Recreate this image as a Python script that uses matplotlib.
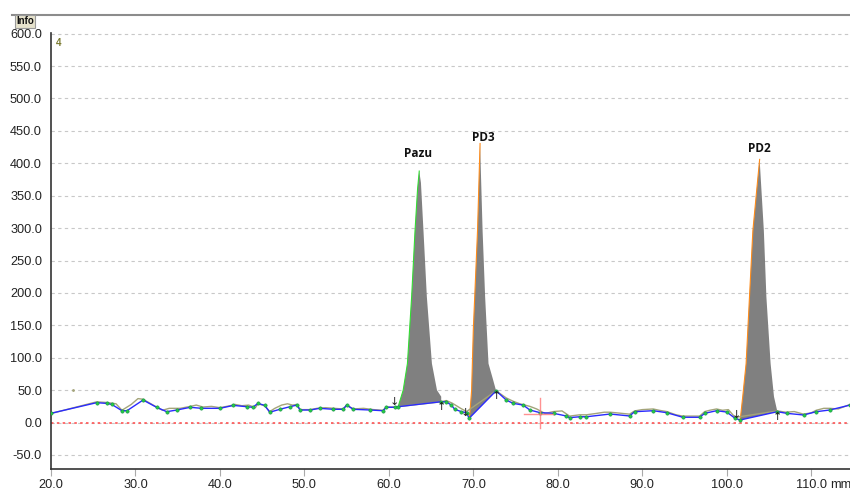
import matplotlib
matplotlib.use("Agg")
import matplotlib.pyplot as plt
from matplotlib.lines import Line2D
import numpy as np

plt.rcParams['font.family'] = ['Liberation Sans', 'DejaVu Sans']

# Baseline trace (blue) in mm / signal units; peak start/end points included
base_x = [20.0, 25.4, 26.6, 27.2, 28.4, 29.0, 30.9, 32.5, 33.7, 34.9, 36.5, 37.8,
          40.0, 41.6, 43.2, 43.9, 44.5, 45.3, 45.9, 47.1, 48.3, 49.1, 49.5, 50.7,
          51.8, 53.4, 54.6, 55.0, 55.8, 57.8, 59.3, 59.7, 60.7, 61.1,
          66.2, 66.8, 67.4, 67.8, 68.6, 69.2, 69.5,
          72.7, 73.9, 74.7, 75.9, 76.7, 77.9, 79.5, 81.0, 81.4, 82.6, 83.4, 86.2,
          88.5, 89.1, 91.3, 92.9, 94.8, 96.8, 97.4, 98.8, 100.0, 101.0, 101.6,
          106.0, 107.1, 109.1, 110.6, 112.2, 114.6]
base_y = [14.3, 30.7, 29.6, 28.0, 18.3, 18.3, 34.8, 23.6, 16.8, 19.4, 23.6, 22.0,
          22.0, 26.5, 24.5, 23.6, 29.7, 26.5, 16.0, 20.5, 24.5, 27.0, 19.4, 19.4,
          22.0, 20.5, 20.5, 27.0, 20.5, 19.4, 18.3, 23.6, 23.6, 24.5,
          32.2, 32.0, 27.0, 20.5, 16.8, 15.3, 6.6,
          49.0, 34.8, 29.7, 27.0, 19.4, 15.3, 14.3, 10.2, 7.6, 9.0, 9.0, 13.2,
          10.2, 16.8, 18.3, 15.3, 8.2, 8.2, 14.3, 18.3, 16.3, 6.6, 4.0,
          16.8, 14.3, 11.7, 16.8, 19.4, 27.0]

# Raw trace (olive)
raw_x = [20.0, 25.4, 26.6, 27.7, 28.4, 29.5, 30.3, 30.9, 31.7, 32.5, 33.2, 34.0,
         35.3, 36.5, 37.2, 38.0, 39.0, 40.0, 41.2, 41.8, 42.6, 43.4, 44.2, 44.5,
         45.3, 45.9, 46.5, 47.3, 48.0, 48.6, 49.1, 49.5, 50.7, 51.5, 52.5, 53.5,
         54.6, 55.0, 55.8, 57.0, 58.2, 59.3, 59.7, 60.7,
         66.2, 66.8, 67.5, 68.5, 69.2,
         72.7, 73.9, 74.7, 75.5, 76.7, 77.5, 78.5, 79.5, 80.5, 81.4, 82.6, 83.4,
         84.5, 85.5, 86.2, 87.0, 88.5, 89.1, 90.0, 91.3, 92.0, 92.9, 94.0, 94.8,
         96.8, 97.4, 98.0, 98.8, 99.5, 100.2, 101.0,
         106.0, 107.0, 108.0, 109.1, 110.0, 110.6, 111.5, 112.2, 113.2, 114.6]
raw_y = [14.0, 32.0, 31.0, 29.0, 19.0, 28.0, 37.0, 36.0, 30.0, 24.0, 19.0, 22.0,
         22.0, 25.0, 27.0, 24.0, 25.0, 23.0, 26.0, 28.0, 26.0, 27.0, 23.0, 29.0,
         26.0, 17.0, 22.0, 27.0, 29.0, 27.0, 28.0, 20.0, 20.0, 22.0, 23.0, 22.0,
         21.0, 27.0, 21.0, 22.0, 20.0, 19.0, 24.0, 24.0,
         32.0, 34.0, 30.0, 22.0, 17.0,
         49.0, 38.0, 33.0, 29.0, 25.0, 21.0, 14.0, 17.0, 18.0, 10.0, 12.0, 12.0,
         14.0, 16.0, 16.0, 15.0, 13.0, 18.0, 20.0, 21.0, 19.0, 17.0, 12.0, 10.0,
         10.0, 17.0, 19.0, 21.0, 19.0, 20.0, 8.0,
         18.0, 16.0, 17.0, 13.0, 15.0, 19.0, 22.0, 22.0, 21.0, 28.0]

# Peaks: outline from start to end along the detector signal
peak_names = ["Pazu", "PD3", "PD2"]
pazu_x = [61.1, 61.7, 62.2, 62.7, 63.1, 63.4, 63.6, 63.8, 64.1, 64.5, 65.1, 65.7, 66.2, 66.2]
pazu_y = [24.5, 50.0, 91.0, 194.0, 296.0, 360.0, 388.0, 370.0, 296.0, 194.0, 91.0, 50.0, 40.0, 32.2]
pd3_x = [69.5, 69.6, 69.8, 70.0, 70.5, 70.8, 71.1, 71.4, 71.8, 72.3, 72.7]
pd3_y = [6.6, 15.0, 50.0, 143.0, 296.0, 430.5, 296.0, 194.0, 91.0, 68.0, 49.0]
pd2_x = [101.6, 101.9, 102.3, 102.7, 103.1, 103.9, 104.4, 104.7, 105.2, 105.6, 106.0]
pd2_y = [4.0, 40.0, 91.0, 194.0, 296.0, 406.0, 296.0, 194.0, 91.0, 40.0, 16.8]
peaks = [(pazu_x, pazu_y), (pd3_x, pd3_y), (pd2_x, pd2_y)]
edge_colors = ["#33dd33", "#ff8c1a", "#ff8c1a"]
label_offsets = [(-1, 18), (3, 6), (0, 11)]

y_ticks = np.arange(-50, 601, 50)
x_ticks = np.arange(20, 111, 10)
x_labels = ["20.0", "30.0", "40.0", "50.0", "60.0", "70.0", "80.0", "90.0", "100.0", "110.0"]
x_unit = "mm"

fig = plt.figure(figsize=(8.5, 4.91), dpi=100)
ax = fig.add_axes([51 / 850, 22 / 491, 799 / 850, 435.7 / 491])
ax.set_xlim(20, 114.6)
ax.set_ylim(-71.6, 600.5)

ax.set_yticks(y_ticks)
ax.set_yticklabels([f"{v:.1f}" for v in y_ticks])
ax.set_xticks(x_ticks)
ax.set_xticklabels(x_labels)
ax.tick_params(axis='y', length=0, pad=6.5, labelsize=9.2, labelcolor='#222222')
ax.tick_params(axis='x', length=5, width=0.8, color='#aaaaaa', pad=2,
               labelsize=9.2, labelcolor='#222222')
# unit written just after the last tick label
fig.text(830 / 850, 1 - 484.5 / 491, x_unit, ha='left', va='center',
         fontsize=9.2, color='#222222')
ax.yaxis.grid(True, color='#c8c8c8', lw=0.8, dashes=(3, 3))
ax.set_axisbelow(True)
for s in ('top', 'right'):
    ax.spines[s].set_visible(False)
for s in ('left', 'bottom'):
    ax.spines[s].set_color('#333333')
    ax.spines[s].set_linewidth(1.2)

# Zero line
ax.axhline(0, color='#ff5555', lw=1.2, dashes=(1.5, 2), zorder=1)

# Peaks filled down to the straight line joining their start and end
for (px, py), ec, name, off in zip(peaks, edge_colors, peak_names, label_offsets):
    ax.fill(px, py, color='#808080', lw=0, zorder=3)
    ia = int(np.argmax(py))
    ax.plot(px[:ia + 1], py[:ia + 1], color=ec, lw=0.8, zorder=4)
    ax.annotate(name, (px[ia], py[ia]), xytext=off, textcoords='offset pixels',
                ha='center', va='center', fontsize=8.5, fontweight='bold',
                family=['Open Sans', 'DejaVu Sans'], color='#111111', zorder=6)
    ax.annotate("↓", (px[0] - 0.4, py[0]), ha='center', va='bottom',
                fontsize=8, color='#222222', family='DejaVu Sans', zorder=6)
    ax.annotate("↑", (px[-1], py[-1]), ha='center', va='top',
                fontsize=8, color='#222222', family='DejaVu Sans', zorder=6)

# Signal traces
ax.plot(raw_x, raw_y, color='#a4a47a', lw=1.0, zorder=4)
ax.plot(base_x, base_y, color='#2a2aff', lw=1.0, zorder=5,
        marker='o', ms=2.4, mfc='#22cc44', mec='#1a8a4a', mew=0.4)

# Cursor cross
ax.plot([76.0, 79.4], [14.0, 14.0], color='#ff7777', lw=1.0, alpha=0.8, zorder=6)
ax.plot([77.9, 77.9], [-8.0, 38.0], color='#ff7777', lw=1.0, alpha=0.8, zorder=6)
ax.plot([22.6], [50.0], marker='.', ms=2, color='#a4a47a', zorder=4)

# Channel number and frame decorations
fig.text(56 / 850, 1 - 43 / 491, "4", fontsize=7, color='#7a7a30',
         fontweight='bold', va='center')
fig.add_artist(Line2D([12 / 850, 1.0], [1 - 15.3 / 491] * 2, color='#8c8c8c', lw=1.5))
fig.text(25 / 850, 1 - 21.5 / 491, "Info", fontsize=7, fontweight='bold',
         ha='center', va='center', color='#111111',
         bbox=dict(boxstyle='square,pad=0.15', fc='#e6e2cc', ec='#9a9a9a', lw=0.8))

fig.savefig("out.png", dpi=100)
